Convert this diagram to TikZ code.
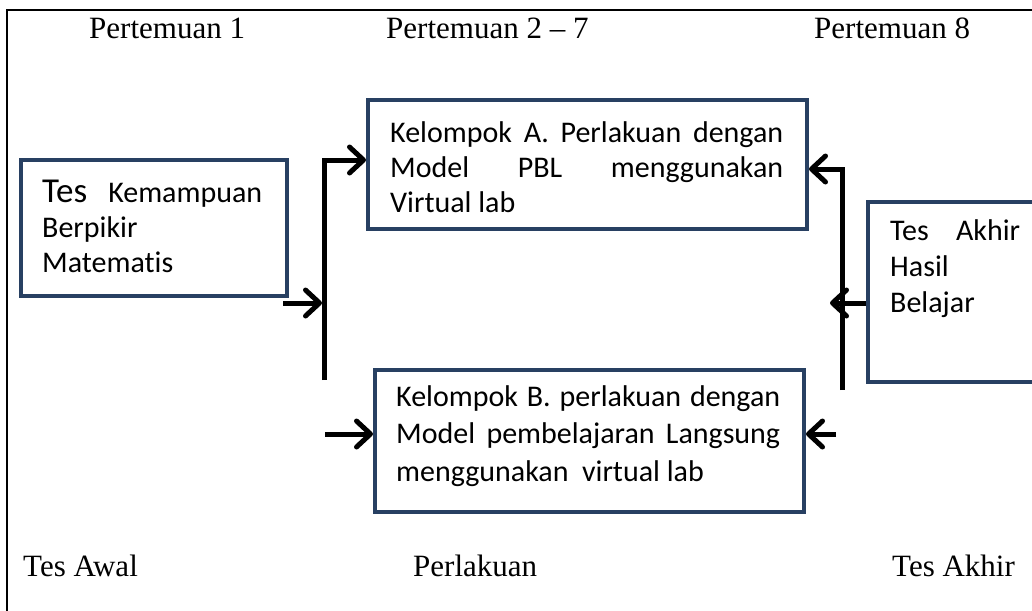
\documentclass[tikz,border=0pt]{standalone}
\usepackage{fontspec}
\setmainfont{Liberation Serif}
\newfontfamily\calibri[Ligatures=NoCommon]{Carlito}
\usetikzlibrary{arrows.meta}
\definecolor{boxblue}{RGB}{40,64,98}
\hyphenpenalty=10000
\exhyphenpenalty=10000
\begin{document}
\begin{tikzpicture}[x=1pt,y=-1pt,
  box/.style={draw=boxblue, line width=4pt, inner sep=0pt, anchor=north west},
  txt/.style={font={\calibri\fontsize{30}{36}\selectfont}, inner sep=0pt, align=justify, anchor=base west},
  lbl/.style={font={\fontsize{31}{37}\selectfont}, inner sep=0pt, anchor=base west},
  conn/.style={line width=5pt},
  arr/.style={line width=5pt, -{Straight Barb[length=14pt,width=26pt,line cap=round,line join=round]}},
  frame/.style={line width=1.5pt}]
\useasboundingbox (0,0) rectangle (1032,610);
% frame
\draw[frame] (7,620) -- (7,10) -- (1040,10);
% headers
\node[lbl] (h1) at (89,38) {Pertemuan 1};
\node[lbl] (h2) at (386,38) {Pertemuan 2 – 7};
\node[lbl] (h3) at (814,38) {Pertemuan 8};
% footers
\node[lbl] (f1) at (23,576) {Tes Awal};
\node[lbl] (f2) at (413,576) {Perlakuan};
\node[lbl] (f3) at (892,576) {Tes Akhir};
% boxes
\node[box, minimum width=266pt, minimum height=136pt] (T) at (19,158) {};
\node[box, minimum width=439pt, minimum height=129pt] (A) at (366,98) {};
\node[box, minimum width=429pt, minimum height=142pt] (B) at (373,368) {};
\node[box, minimum width=250pt, minimum height=180pt] (E) at (866,200) {};
% box texts
\node[txt, text width=220pt, font={\calibri\fontsize{30}{35}\selectfont}] (Tt) at (42,202)
  {{\fontsize{35}{35}\selectfont Tes} Kemampuan\linebreak Berpikir\par Matematis};
\node[txt, text width=393pt, font={\calibri\fontsize{30}{35}\selectfont}] (At) at (390,142)
  {Kelompok A. Perlakuan dengan\linebreak Model PBL menggunakan\linebreak Virtual lab};
\node[txt, text width=384pt, font={\calibri\fontsize{30}{37.5}\selectfont}] (Bt) at (396,406)
  {Kelompok B. perlakuan dengan\linebreak Model pembelajaran Langsung\linebreak menggunakan\ \ virtual lab};
\node[txt, text width=130pt] (Et) at (890,240)
  {Tes Akhir\linebreak Hasil\par Belajar};
% connectors left
\coordinate (lt) at (324,160);
\coordinate (lb) at (324,380);
\coordinate (lj) at (322,303);
\coordinate (ts) at (283,303);
\coordinate (lbB) at (325,434);
\draw[arr] (lb) -- (lt) -- (lt -| A.west);
\draw[arr] (ts) -- (lj);
\draw[arr] (lbB) -- (lbB -| B.west);
% connectors right
\coordinate (rt) at (842,169);
\coordinate (rb) at (842,390);
\coordinate (rj) at (830,303);
\coordinate (rbB) at (836,434);
\draw[arr] (rb) -- (rt) -- (rt -| A.east);
\draw[arr] (E.west |- rj) -- (rj);
\draw[arr] (rbB) -- (rbB -| B.east);
\end{tikzpicture}
\end{document}
